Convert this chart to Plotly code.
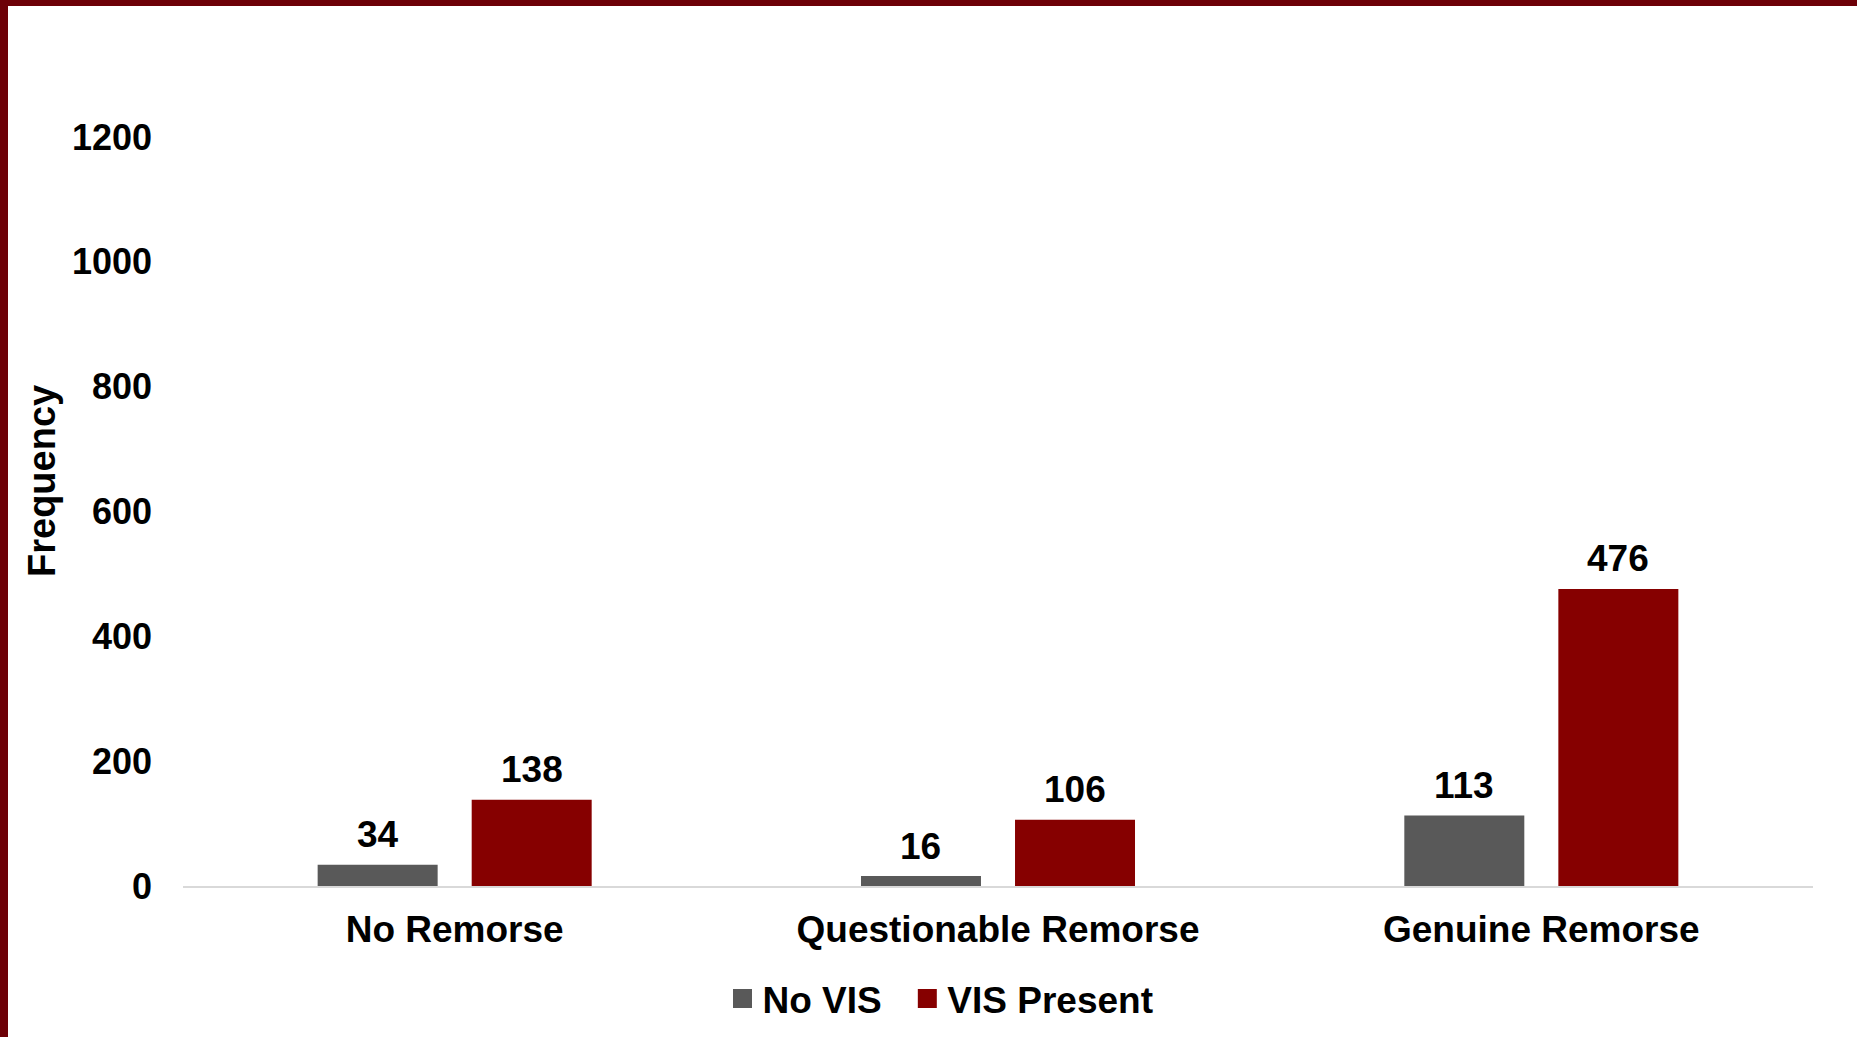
import plotly.graph_objects as go

categories = ["No Remorse", "Questionable Remorse", "Genuine Remorse"]
no_vis = [34, 16, 113]
vis_present = [138, 106, 476]
series_names = ["No VIS", "VIS Present"]
y_ticks = [0, 200, 400, 600, 800, 1000, 1200]

W, H = 1857, 1037
ML, MR, MT, MB = 183, 44, 137, 151
PW, PH = W - ML - MR, H - MT - MB

FONT = "Liberation Sans, Arial, sans-serif"
BORDER = "#6D0007"
GRAY = "#595959"
RED = "#860000"
BARGAP = 0.433
BARGROUPGAP = 0.221

def px_x(p):
    return (p - ML) / PW

def px_y(p):
    return (H - MB - p) / PH

fig = go.Figure()
series = [(no_vis, GRAY), (vis_present, RED)]
for name, (vals, col) in zip(series_names, series):
    fig.add_trace(go.Bar(
        x=categories, y=vals, name=name, showlegend=False,
        marker=dict(color=col, line=dict(width=0)),
        hoverinfo="x+y",
    ))
# legend-only entries with larger square swatches
for name, (vals, col) in zip(series_names, series):
    fig.add_trace(go.Scatter(
        x=[None], y=[None], mode="markers", name=f"<b>{name}</b>\u00a0\u00a0",
        marker=dict(symbol="square", size=16, color=col, line=dict(width=3, color=col)),
        showlegend=True,
    ))

# data labels above bars
annotations = []
offset = (1 - BARGAP) / 4
for k, (vals, _) in enumerate(series):
    sign = -1 if k == 0 else 1
    for i, v in enumerate(vals):
        annotations.append(dict(
            x=i + sign * offset, y=v, xref="x", yref="y",
            text=f"<b>{v}</b>", showarrow=False,
            xanchor="center", yanchor="middle", yshift=30,
            font=dict(family=FONT, size=37, color="black"),
        ))
annotations.append(dict(
    text="<b>Frequency</b>", textangle=-90, showarrow=False,
    xref="paper", yref="paper", x=px_x(42), y=px_y(481),
    xanchor="center", yanchor="middle",
    font=dict(family=FONT, size=38, color="black"),
))

fig.update_layout(
    width=W, height=H,
    margin=dict(l=ML, r=MR, t=MT, b=MB, autoexpand=False),
    paper_bgcolor="white", plot_bgcolor="white",
    barmode="group", bargap=BARGAP, bargroupgap=BARGROUPGAP,
    font=dict(family=FONT, size=37, color="black"),
    showlegend=True,
    legend=dict(
        orientation="h", x=px_x(951), xanchor="center",
        y=px_y(999), yanchor="middle",
        font=dict(family=FONT, size=37, color="black"),
        itemwidth=30, tracegroupgap=0,
    ),
    xaxis=dict(
        type="category",
        showgrid=False, showline=True, linecolor="#D9D9D9", linewidth=2,
        ticks="", tickfont=dict(family=FONT, size=37, color="black"),
        tickvals=categories, ticktext=[f"<b>{c}</b>" for c in categories],
        ticklabelstandoff=10, fixedrange=True, automargin=False,
    ),
    yaxis=dict(
        range=[0, 1200], tickvals=y_ticks, ticktext=[f"<b>{t}</b>" for t in y_ticks],
        showgrid=False, zeroline=False, showline=False, ticks="",
        tickfont=dict(family=FONT, size=36, color="black"),
        ticklabelstandoff=30, fixedrange=True, automargin=False,
    ),
    annotations=annotations,
    shapes=[
        dict(type="rect", xref="paper", yref="paper", layer="above",
             x0=px_x(0), x1=px_x(W), y0=px_y(6), y1=px_y(0),
             fillcolor=BORDER, line=dict(width=0)),
        dict(type="rect", xref="paper", yref="paper", layer="above",
             x0=px_x(0), x1=px_x(8), y0=px_y(H), y1=px_y(0),
             fillcolor=BORDER, line=dict(width=0)),
    ],
)

fig.write_html(
    "out.html",
    config={"displayModeBar": False},
    post_script="document.body.style.margin='0';document.body.style.overflow='hidden';",
)
